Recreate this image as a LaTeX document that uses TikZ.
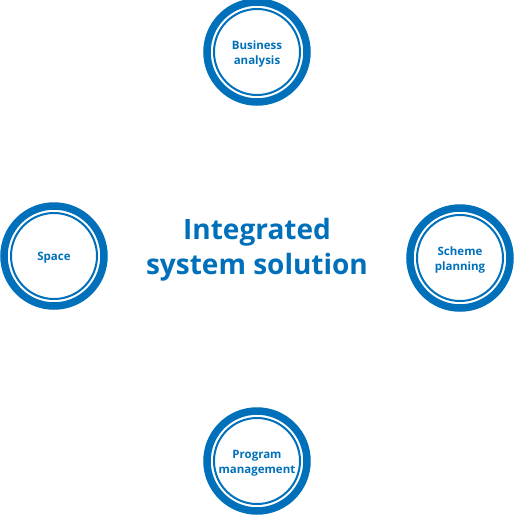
\documentclass[tikz,border=0pt]{standalone}
\usepackage{fontspec}
\setmainfont{Open Sans}
\usepackage{tikz}
\definecolor{ringblue}{RGB}{0,112,186}
\tikzset{
  ring/.style={circle, minimum size=100pt, draw=ringblue, line width=7.5pt, inner sep=0pt},
  ringlabel/.style={align=center, text=ringblue, yshift=-2pt, font=\bfseries\fontsize{11.5}{15}\selectfont},
}
\newcommand{\innerring}[1]{\draw[ringblue, line width=2pt] (#1) circle (43);}

\begin{document}
\begin{tikzpicture}[x=1pt, y=-1pt]
			%%%%% START %%%%%
			\useasboundingbox (0, 0) rectangle (515, 515);
			
			\node[ring] (business) at (257, 52) {};
			\innerring{business}
			\node[ringlabel] at (business) {Business\\analysis};
			
			\node[ring] (space) at (54, 256) {};
			\innerring{space}
			\node[ringlabel] at (space) {Space};
			
			\node[ring] (scheme) at (460, 258) {};
			\innerring{scheme}
			\node[ringlabel] at (scheme) {Scheme\\planning};
			
			\node[ring] (program) at (257, 461) {};
			\innerring{program}
			\node[ringlabel] at (program) {Program\\management};
			
			\node[align=center, text=ringblue, font=\bfseries\fontsize{28}{35}\selectfont] (title) at (257, 250) {Integrated\\system solution};
			
			%%%%% END %%%%%
\end{tikzpicture}
\end{document}
